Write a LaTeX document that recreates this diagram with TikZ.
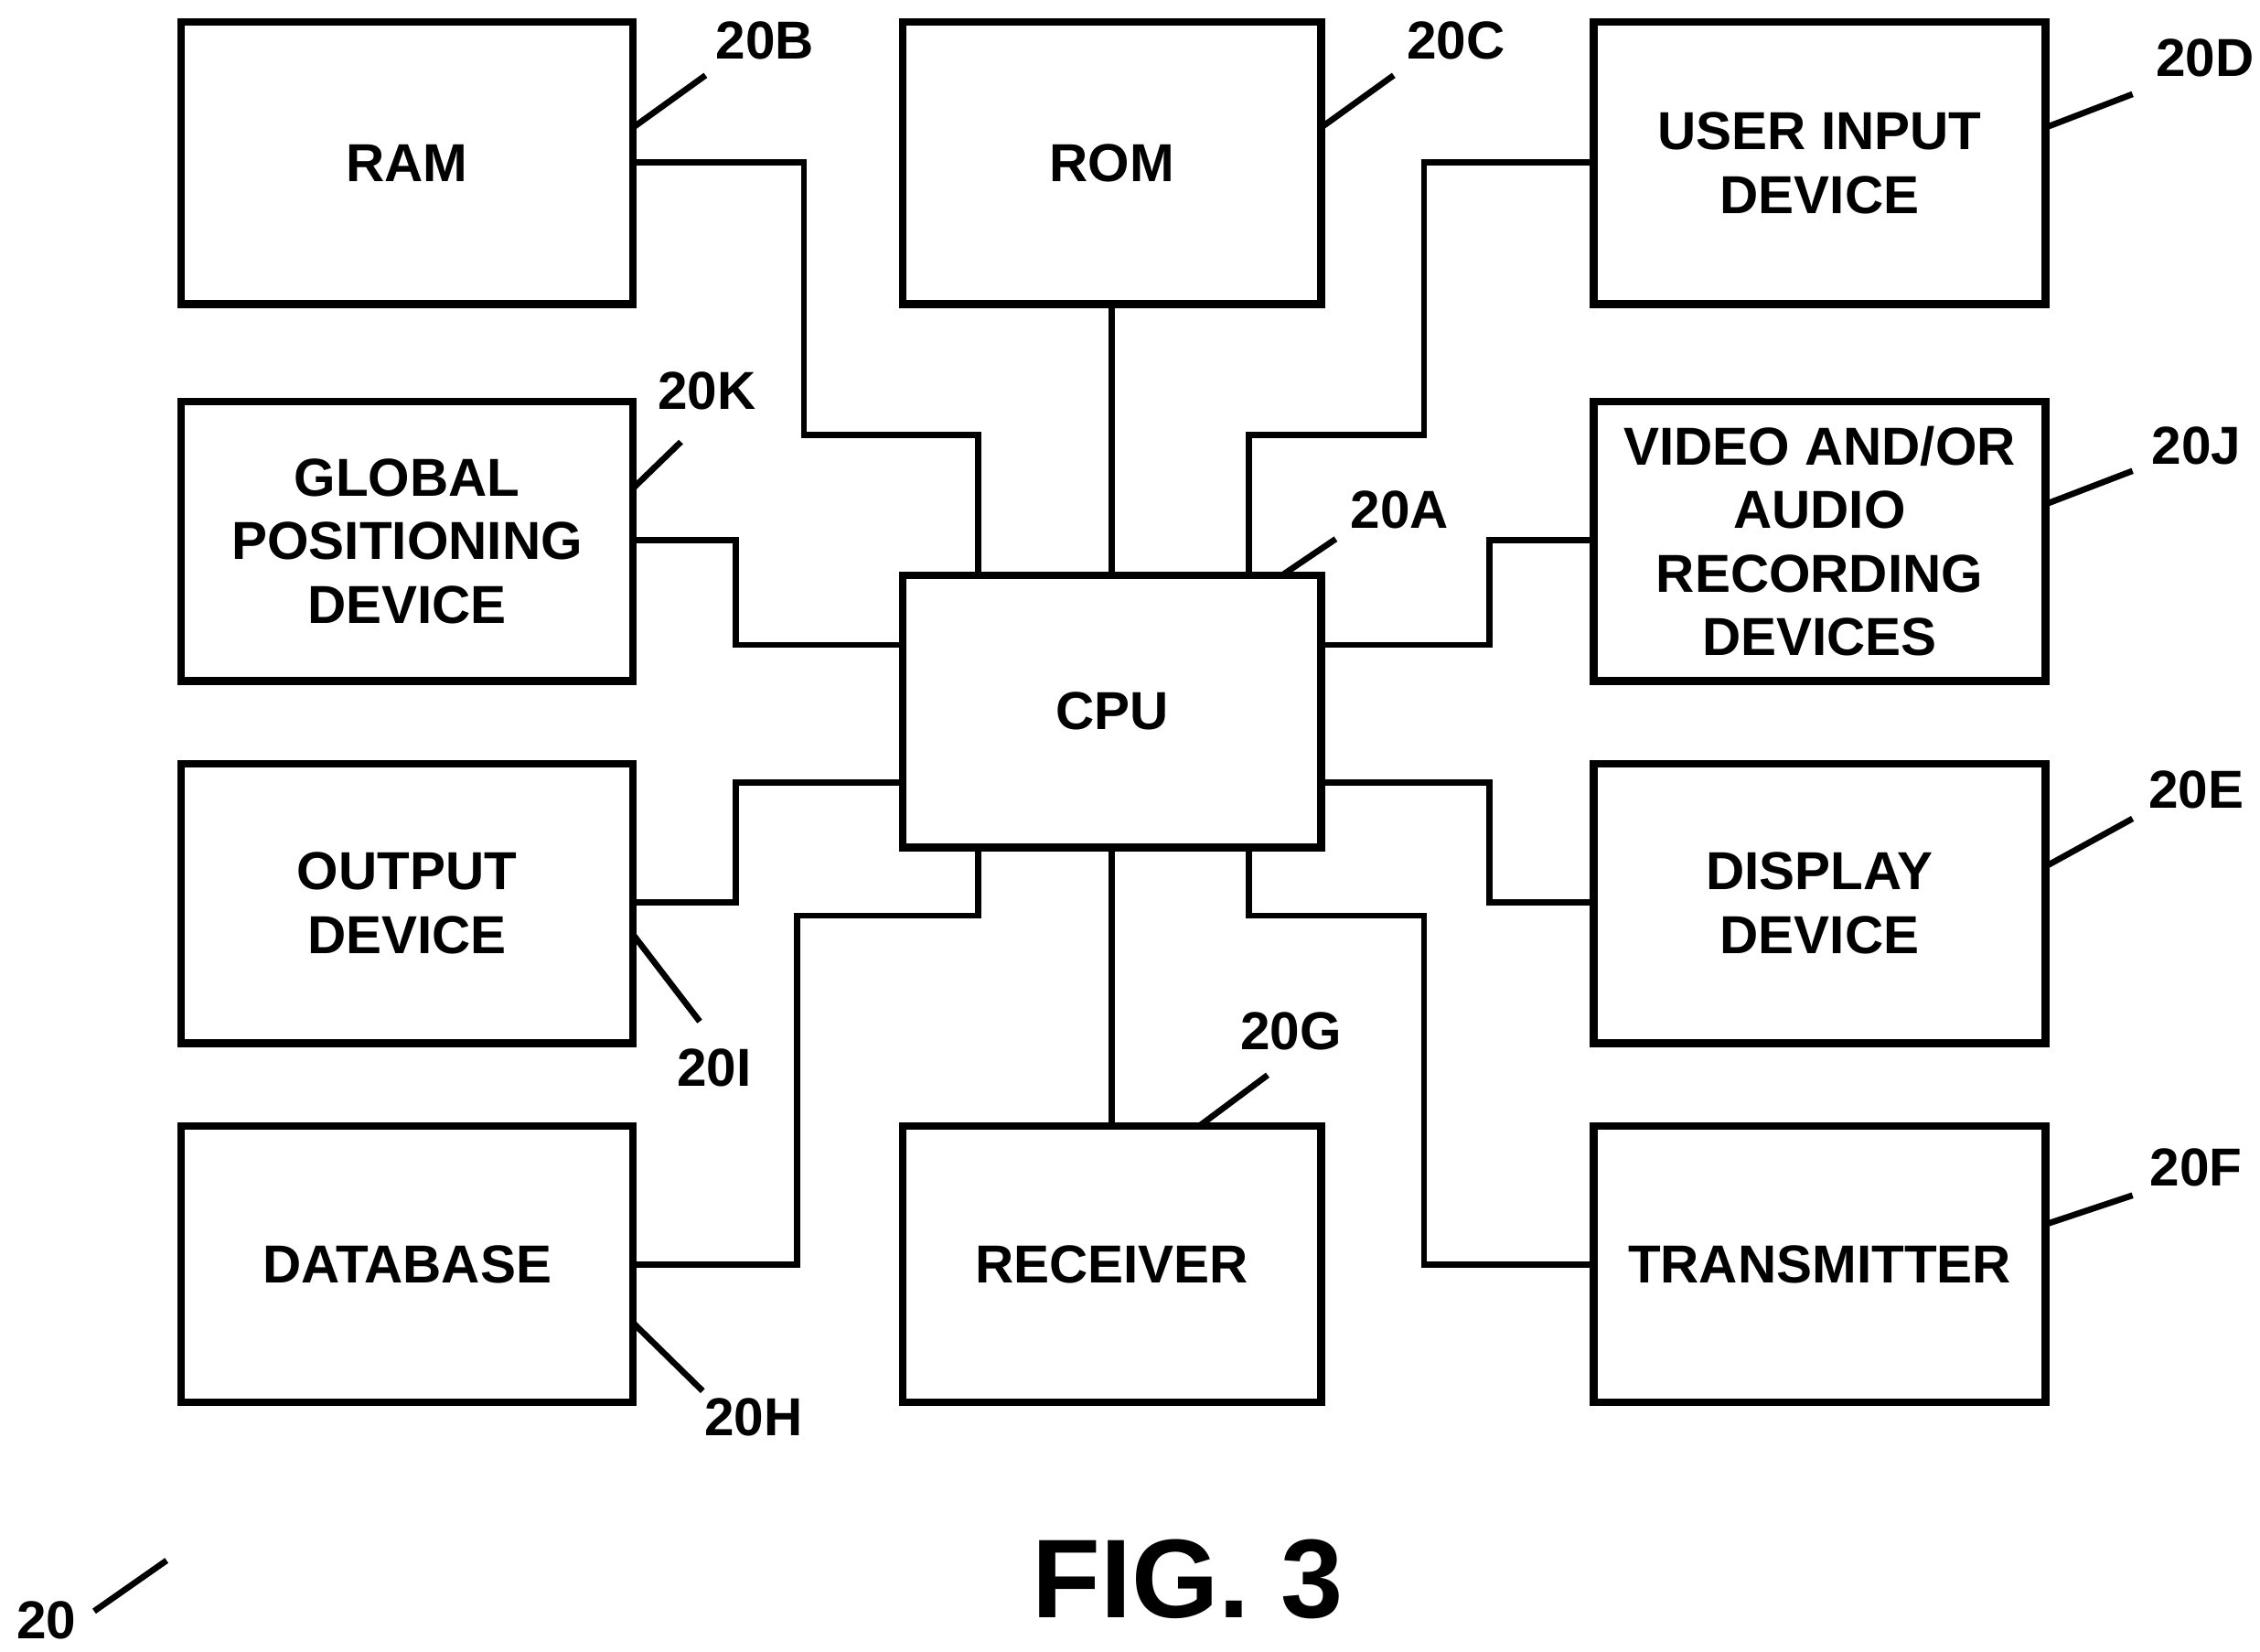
\documentclass[tikz,border=0pt]{standalone}
\usepackage{fontspec}
\setmainfont{Liberation Sans}
\begin{document}
\begin{tikzpicture}[x=0.1mm,y=-0.1mm,
  box/.style={draw,line width=1.5pt,inner sep=0pt,font=\bfseries\fontsize{10.5}{12.5}\selectfont,align=center},
  wire/.style={line width=1.2pt},
  lead/.style={line width=1.2pt},
  lbl/.style={font=\bfseries\fontsize{10.5}{12}\selectfont,inner sep=0pt}]
\useasboundingbox (0,0) rectangle (1560,1140);
\newcommand\bx[6]{\node[box,minimum width={(#4-#2)*0.1mm},minimum height={(#5-#3)*0.1mm}] (#1) at ({(#2+#4)/2},{(#3+#5)/2}) {#6};}
\bx{ram}{125}{15}{437}{210}{RAM}
\bx{rom}{623}{15}{912}{210}{ROM}
\bx{uid}{1100}{15}{1412}{210}{USER INPUT\\DEVICE}
\bx{gps}{125}{277}{437}{470}{GLOBAL\\POSITIONING\\DEVICE}
\bx{cpu}{623}{397}{912}{585}{CPU}
\bx{vid}{1100}{277}{1412}{470}{VIDEO AND/OR\\AUDIO\\RECORDING\\DEVICES}
\bx{out}{125}{527}{437}{720}{OUTPUT\\DEVICE}
\bx{dsp}{1100}{527}{1412}{720}{DISPLAY\\DEVICE}
\bx{db}{125}{777}{437}{968}{DATABASE}
\bx{rcv}{623}{777}{912}{968}{RECEIVER}
\bx{tx}{1100}{777}{1412}{968}{TRANSMITTER}
% connectors
\draw[wire] (ram.east |- 0,112) -- (555,112) -- (555,300) -- (675,300) -- (675,0 |- cpu.north);
\draw[wire] (rom) -- (cpu);
\draw[wire] (uid.west |- 0,112) -- (983,112) -- (983,300) -- (862,300) -- (862,0 |- cpu.north);
\draw[wire] (gps.east |- 0,373) -- (508,373) -- (508,445) -- (cpu.west |- 0,445);
\draw[wire] (vid.west |- 0,373) -- (1028,373) -- (1028,445) -- (cpu.east |- 0,445);
\draw[wire] (out.east |- 0,623) -- (508,623) -- (508,540) -- (cpu.west |- 0,540);
\draw[wire] (dsp.west |- 0,623) -- (1028,623) -- (1028,540) -- (cpu.east |- 0,540);
\draw[wire] (db.east |- 0,873) -- (550,873) -- (550,632) -- (675,632) -- (675,0 |- cpu.south);
\draw[wire] (cpu) -- (rcv);
\draw[wire] (tx.west |- 0,873) -- (983,873) -- (983,632) -- (862,632) -- (862,0 |- cpu.south);
% labels
\coordinate (lB) at (487,52); \draw[lead] (437,88) -- (lB); \node[lbl] (tB) at (528,28) {20B};
\coordinate (lC) at (962,52); \draw[lead] (912,88) -- (lC); \node[lbl] (tC) at (1005,28) {20C};
\coordinate (lD) at (1472,65); \draw[lead] (1412,88) -- (lD); \node[lbl] (tD) at (1522,40) {20D};
\coordinate (lK) at (470,305); \draw[lead] (437,337) -- (lK); \node[lbl] (tK) at (488,270) {20K};
\coordinate (lA) at (922,372); \draw[lead] (885,397) -- (lA); \node[lbl] (tA) at (966,352) {20A};
\coordinate (lJ) at (1472,325); \draw[lead] (1412,348) -- (lJ); \node[lbl] (tJ) at (1516,308) {20J};
\coordinate (lE) at (1472,565); \draw[lead] (1412,598) -- (lE); \node[lbl] (tE) at (1516,545) {20E};
\coordinate (lI) at (483,705); \draw[lead] (437,645) -- (lI); \node[lbl] (tI) at (493,737) {20I};
\coordinate (lG) at (875,742); \draw[lead] (828,777) -- (lG); \node[lbl] (tG) at (891,712) {20G};
\coordinate (lF) at (1472,825); \draw[lead] (1412,845) -- (lF); \node[lbl] (tF) at (1516,806) {20F};
\coordinate (lH) at (485,960); \draw[lead] (437,913) -- (lH); \node[lbl] (tH) at (520,978) {20H};
\coordinate (l0a) at (65,1112); \coordinate (l0b) at (115,1077); \draw[lead] (l0a) -- (l0b);
\node[lbl] (t0) at (32,1118) {20};
\node[font=\bfseries\fontsize{22}{26}\selectfont,inner sep=0pt] (fig) at (820,1090) {FIG. 3};
\end{tikzpicture}
\end{document}
